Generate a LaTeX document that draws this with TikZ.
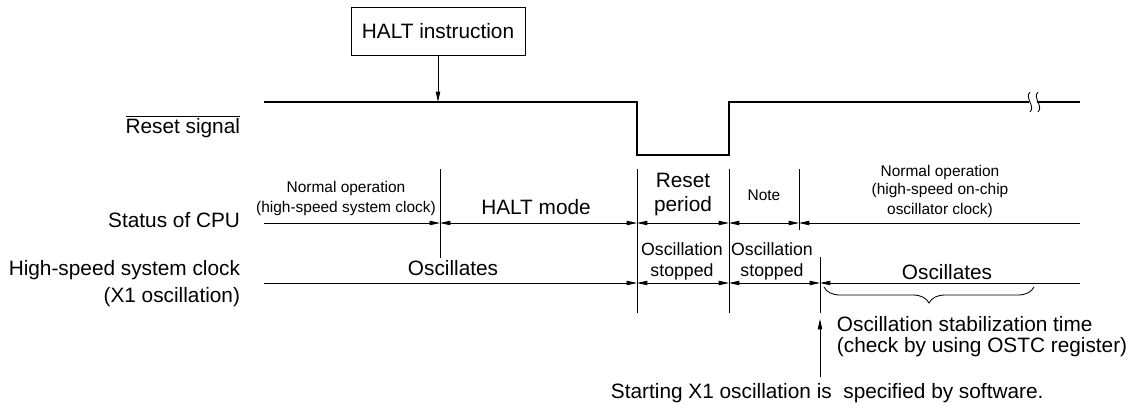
\documentclass[tikz,border=0pt]{standalone}
\usepackage{fontspec}
\setmainfont{Liberation Sans}
\usetikzlibrary{arrows.meta,positioning,decorations.pathreplacing}

\tikzset{
  big/.style={font=\fontsize{14.8}{16}\selectfont},
  mid/.style={font=\fontsize{12.6}{14}\selectfont},
  small/.style={font=\fontsize{11}{13}\selectfont},
  thin line/.style={line width=0.6pt},
  signal/.style={line width=1.4pt},
}

\begin{document}
\begin{tikzpicture}[x=1cm,y=1cm,>={Triangle[length=2.6mm,width=1.1mm]}]
  \useasboundingbox (0,0) rectangle (28.45,10.175);

  % trigger
  \node[draw,thin line,big,minimum width=4.35cm,minimum height=1.2cm] (halt) at (10.95,9.4) {HALT instruction};
  \coordinate (hit) at (10.95,7.625);
  \draw[->,thin line] (halt) -- (hit);

  % row labels
  \node[anchor=east,big] (rst) at (6.125,7.0) {$\overline{\mbox{Reset signal}}$};
  \node[anchor=east,big] (cpu) at (6.125,4.68) {Status of CPU};
  \node[anchor=east,big] (clk) at (6.125,3.43) {High-speed system clock};
  \node[anchor=east,big] (xosc) at (6.125,2.75) {(X1 oscillation)};

  % reset waveform
  \draw[signal] (6.6,7.625) -- (15.925,7.625) -- (15.925,6.3) -- (18.225,6.3) -- (18.225,7.625) -- (25.72,7.625);
  \draw[signal] (25.92,7.625) -- (27.0,7.625);
  \draw[thin line] (25.75,7.87) .. controls (25.6,7.75) and (25.9,7.5) .. (25.75,7.38);
  \draw[thin line] (25.95,7.87) .. controls (25.8,7.75) and (26.1,7.5) .. (25.95,7.38);

  % boundaries
  \draw[thin line] (11.0,5.95) -- (11.0,3.725);
  \draw[thin line] (15.925,5.95) -- (15.925,2.35);
  \draw[thin line] (18.225,5.95) -- (18.225,2.35);
  \draw[thin line] (19.975,5.95) -- (19.975,4.425);
  \draw[thin line] (20.5,3.75) -- (20.5,2.35);

  % status of CPU
  \coordinate (s0) at (6.6,4.6);
  \coordinate (s1) at (11.0,4.6);
  \coordinate (s2) at (15.925,4.6);
  \coordinate (s3) at (18.225,4.6);
  \coordinate (s4) at (19.975,4.6);
  \coordinate (s5) at (27.0,4.6);
  \draw[thin line,->] (s0) -- (s1);
  \draw[thin line,<->] (s1) -- (s2);
  \draw[thin line,<->] (s2) -- (s3);
  \draw[thin line,<->] (s3) -- (s4);
  \draw[thin line,<-] (s4) -- (s5);

  \node[small] (nop1) at (8.65,5.475) {Normal operation};
  \node[small] (nop2) at (8.65,4.975) {(high-speed system clock)};
  \node[big] (hmode) at (13.4,5.0) {HALT mode};
  \node[big] (rp1) at (17.075,5.675) {Reset};
  \node[big] (rp2) at (17.075,5.03) {period};
  \node[small] (note) at (19.1,5.3) {Note};
  \node[small] (nor1) at (23.5,5.875) {Normal operation};
  \node[small] (nor2) at (23.5,5.425) {(high-speed on-chip};
  \node[small] (nor3) at (23.5,4.925) {oscillator clock)};

  % X1 clock
  \coordinate (c0) at (6.6,3.1);
  \coordinate (c1) at (15.925,3.1);
  \coordinate (c2) at (18.225,3.1);
  \coordinate (c3) at (20.5,3.1);
  \coordinate (c4) at (27.0,3.1);
  \draw[thin line,->] (c0) -- (c1);
  \draw[thin line,<->] (c1) -- (c2);
  \draw[thin line,<->] (c2) -- (c3);
  \draw[thin line,<-] (c3) -- (c4);

  \node[big] (osc1) at (11.325,3.475) {Oscillates};
  \node[mid] (stp1a) at (17.05,3.95) {Oscillation};
  \node[mid] (stp1b) at (17.05,3.37) {stopped};
  \node[mid] (stp2a) at (19.3,3.95) {Oscillation};
  \node[mid] (stp2b) at (19.3,3.37) {stopped};
  \node[big] (osc2) at (23.675,3.37) {Oscillates};

  % stabilization
  \draw[thin line,decorate,decoration={brace,mirror,amplitude=0.4cm}] (20.6,3.0) -- (25.85,3.0);
  \node[big,anchor=west] (stab1) at (20.8,2.075) {Oscillation stabilization time};
  \node[big,anchor=west] (stab2) at (20.8,1.5) {(check by using OSTC register)};
  \node[big,anchor=west] (soft) at (15.15,0.35) {Starting X1 oscillation is~ specified by software.};
  \coordinate (swon) at (20.5,0.75);
  \coordinate (swtip) at (20.5,2.2);
  \draw[thin line,->] (swon) -- (swtip);
\end{tikzpicture}
\end{document}
